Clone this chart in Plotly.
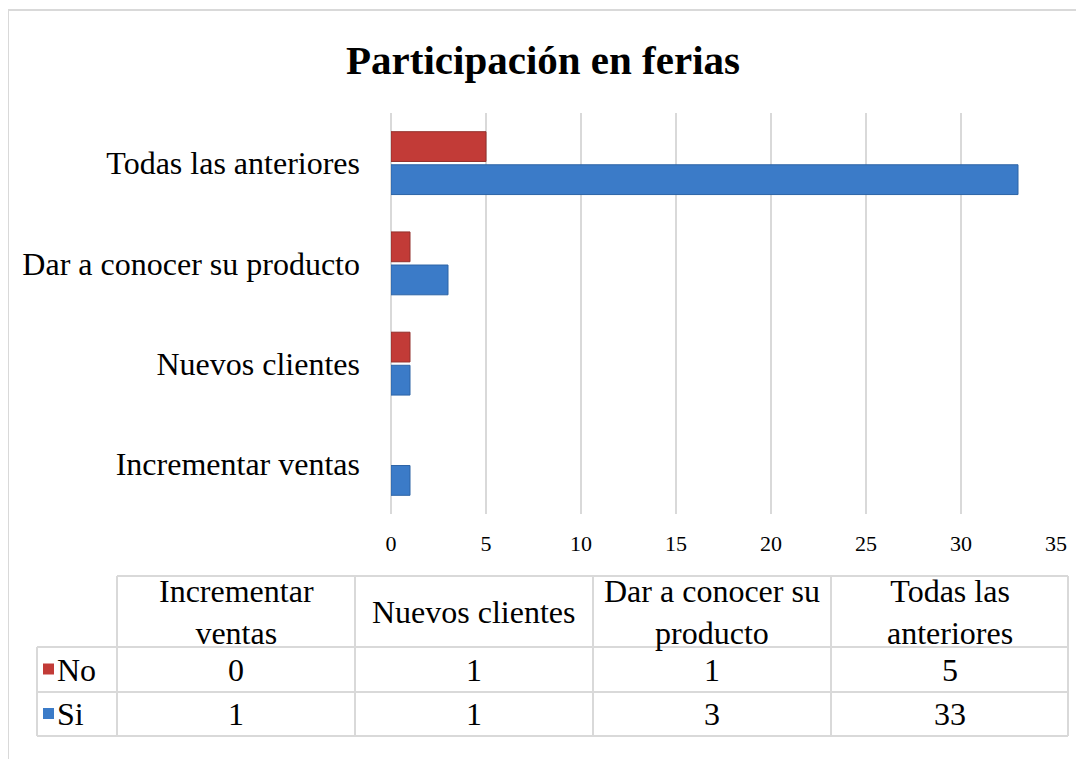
import plotly.graph_objects as go

# Data
categories = ["Incrementar ventas", "Nuevos clientes", "Dar a conocer su producto", "Todas las anteriores"]
table_headers = ["Incrementar<br>ventas", "Nuevos clientes", "Dar a conocer su<br>producto", "Todas las<br>anteriores"]
no_values = [0, 1, 1, 5]
si_values = [1, 1, 3, 33]
x_ticks = [0, 5, 10, 15, 20, 25, 30, 35]

RED = "#C23B37"
BLUE = "#3B7BC8"
GRID = "#D9D9D9"
FONT = "Liberation Serif, Times New Roman, serif"

# page body adds an 8px margin, so the figure is drawn 8px in from the window edge
OFF = 8
W, H = 1084 - OFF, 759 - OFF
# plot area as it should appear in the window (pixels)
PL, PR, PT, PB = 391, 1056, 113, 514


def fx(px):
    return (px - PL) / (PR - PL)


def fy(py):
    return (PB - py) / (PB - PT)


def edge_widths(vals):
    # no outline on empty bars
    return [0 if v == 0 else 1 for v in vals]


fig = go.Figure()

# Si first so it sits below No inside each group
fig.add_trace(go.Bar(
    y=categories, x=si_values, name="Si", orientation="h",
    marker=dict(color=BLUE, line=dict(color="#2D64A6", width=edge_widths(si_values))),
))
fig.add_trace(go.Bar(
    y=categories, x=no_values, name="No", orientation="h",
    marker=dict(color=RED, line=dict(color="#93302C", width=edge_widths(no_values))),
))

shapes = []
annotations = []

# outer chart border (top and left)
shapes.append(dict(type="line", xref="paper", yref="paper",
                   x0=fx(8), x1=fx(1084), y0=fy(10), y1=fy(10),
                   line=dict(color=GRID, width=2)))
shapes.append(dict(type="line", xref="paper", yref="paper",
                   x0=fx(8), x1=fx(8), y0=fy(10), y1=fy(759),
                   line=dict(color=GRID, width=2)))

# data table grid
col_x = [117, 355, 593, 831, 1068]
row_y = [576, 647, 692, 736]
tbl_line = dict(color=GRID, width=2)
shapes.append(dict(type="line", xref="paper", yref="paper",
                   x0=fx(117), x1=fx(1068), y0=fy(576), y1=fy(576), line=tbl_line))
for yy in row_y[1:]:
    shapes.append(dict(type="line", xref="paper", yref="paper",
                       x0=fx(37), x1=fx(1068), y0=fy(yy), y1=fy(yy), line=tbl_line))
shapes.append(dict(type="line", xref="paper", yref="paper",
                   x0=fx(37), x1=fx(37), y0=fy(647), y1=fy(736), line=tbl_line))
for xx in col_x:
    shapes.append(dict(type="line", xref="paper", yref="paper",
                       x0=fx(xx), x1=fx(xx), y0=fy(576), y1=fy(736), line=tbl_line))

# header texts
for i, h in enumerate(table_headers):
    cx = (col_x[i] + col_x[i + 1]) / 2
    annotations.append(dict(x=fx(cx), y=fy((576 + 647) / 2), xref="paper", yref="paper",
                            text=h, showarrow=False, xanchor="center", yanchor="middle",
                            font=dict(family=FONT, size=32, color="#000000")))

# value rows with legend keys
rows = [("No", no_values, RED, 647, 692), ("Si", si_values, BLUE, 692, 736)]
for name, vals, col, y0, y1 in rows:
    cy = (y0 + y1) / 2
    shapes.append(dict(type="rect", xref="paper", yref="paper",
                       x0=fx(43), x1=fx(54), y0=fy(cy - 6), y1=fy(cy + 5),
                       fillcolor=col, line=dict(width=0)))
    annotations.append(dict(x=fx(55), y=fy(cy), xref="paper", yref="paper",
                            text=name, showarrow=False, xanchor="left", yanchor="middle",
                            font=dict(family=FONT, size=32, color="#000000")))
    for i, v in enumerate(vals):
        cx = (col_x[i] + col_x[i + 1]) / 2
        annotations.append(dict(x=fx(cx), y=fy(cy), xref="paper", yref="paper",
                                text=str(v), showarrow=False, xanchor="center", yanchor="middle",
                                font=dict(family=FONT, size=32, color="#000000")))

fig.update_layout(
    width=W, height=H,
    margin=dict(l=PL - OFF, r=W - (PR - OFF), t=PT - OFF, b=H - (PB - OFF), pad=0),
    paper_bgcolor="white", plot_bgcolor="white",
    barmode="group", bargap=0.34, bargroupgap=0.1,
    showlegend=False,
    title=dict(text="<b>Participación en ferias</b>", x=(543 - OFF) / W, xanchor="center",
               y=1 - (60 - OFF) / H, yanchor="middle",
               font=dict(family=FONT, size=41, color="#000000")),
    font=dict(family=FONT, color="#000000"),
    shapes=shapes,
    annotations=annotations,
)

fig.update_xaxes(range=[0, 35], tickvals=x_ticks, showgrid=True, gridcolor=GRID, gridwidth=2,
                 zeroline=True, zerolinecolor=GRID, zerolinewidth=2, showline=False,
                 ticks="", ticklabelstandoff=14, tickfont=dict(family=FONT, size=22))
fig.update_yaxes(categoryorder="array", categoryarray=categories, showgrid=False,
                 showline=False, ticks="", ticklabelstandoff=30,
                 tickfont=dict(family=FONT, size=32))

fig.write_html("out.html")
